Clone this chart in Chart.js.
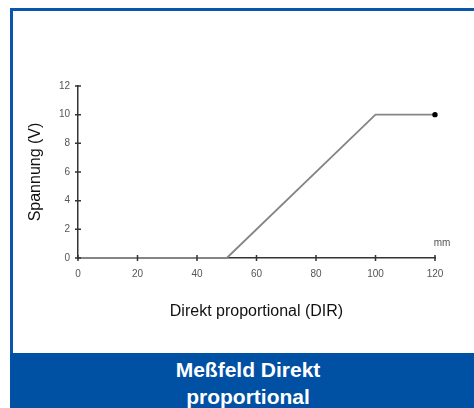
<!DOCTYPE html>
<html>
<head>
<meta charset="utf-8">
<script src="https://cdn.jsdelivr.net/npm/chart.js@4/dist/chart.umd.min.js"></script>
<style>
  html, body { margin: 0; padding: 0; width: 474px; height: 408px; overflow: hidden; background: #fff; }
  #frame { position: absolute; left: 10px; top: 8px; width: 476px; height: 345px; box-sizing: border-box;
           border-top: 3px solid #0a56ad; border-left: 3px solid #0a56ad; background: #fff; }
  #band { position: absolute; left: 10px; top: 353px; width: 476px; height: 60px; background: #0050a4;
          color: #fff; text-align: center; font: bold 21px "Liberation Sans", Arial, sans-serif;
          line-height: 27px; padding-top: 3px; box-sizing: border-box; }
  #c { position: absolute; left: 0; top: 0; }
</style>
</head>
<body>
<div id="frame"></div>
<div id="band">Meßfeld Direkt<br>proportional</div>
<canvas id="c" width="474" height="350"></canvas>
<script>
// ---- data ----
const positionsMm = [0, 50, 100, 120];
const voltageV = [0, 0, 10, 10];
const xTickValues = [0, 20, 40, 60, 80, 100, 120];
const yTickValues = [0, 2, 4, 6, 8, 10, 12];
const xAxisTitle = 'Direkt proportional (DIR)';
const yAxisTitle = 'Spannung (V)';
const xUnitLabel = 'mm';

const FONT = '"Liberation Sans", Arial, sans-serif';
const AXIS = '#333';

const crossTicks = {
  id: 'crossTicks',
  afterDraw(chart) {
    const {ctx, scales: {x, y}} = chart;
    const y0 = y.getPixelForValue(y.min);
    const x0 = x.getPixelForValue(x.min);
    ctx.save();
    ctx.strokeStyle = AXIS;
    ctx.lineWidth = 1.5;
    ctx.beginPath();
    x.ticks.forEach(t => {
      const px = x.getPixelForValue(t.value);
      ctx.moveTo(px, y0 - 3); ctx.lineTo(px, y0 + 3);
    });
    y.ticks.forEach(t => {
      const py = y.getPixelForValue(t.value);
      ctx.moveTo(x0 - 3, py); ctx.lineTo(x0 + 3, py);
    });
    ctx.stroke();
    ctx.fillStyle = '#555';
    ctx.font = '10px ' + FONT;
    ctx.textAlign = 'center';
    ctx.textBaseline = 'middle';
    ctx.fillText(xUnitLabel, x.getPixelForValue(x.max) + 7, y0 - 15);
    ctx.restore();
  }
};

const lastIdx = positionsMm.length - 1;

new Chart(document.getElementById('c'), {
  type: 'line',
  data: {
    datasets: [{
      data: positionsMm.map((v, i) => ({x: v, y: voltageV[i]})),
      borderColor: '#858585',
      borderWidth: 1.8,
      pointRadius: ctx => ctx.dataIndex === lastIdx ? 2.7 : 0,
      pointBackgroundColor: '#000',
      pointBorderColor: '#000',
      pointBorderWidth: 0,
      tension: 0,
      clip: 6
    }]
  },
  options: {
    responsive: false,
    animation: false,
    events: [],
    layout: { padding: { top: 86, right: 39, left: 20, bottom: 0 } },
    plugins: { legend: { display: false }, tooltip: { enabled: false } },
    scales: {
      x: {
        type: 'linear', min: 0, max: 120,
        afterBuildTicks: s => { s.ticks = xTickValues.map(v => ({value: v})); },
        ticks: { font: { size: 10, family: FONT }, color: '#555', padding: 10, maxRotation: 0 },
        grid: { drawOnChartArea: false, drawTicks: false },
        border: { display: true, color: AXIS, width: 1.5 },
        title: { display: true, text: xAxisTitle, font: { size: 16, family: FONT }, color: '#111',
                 padding: { top: 0, bottom: 29 } },
        afterFit: s => { s.height = 92; }
      },
      y: {
        type: 'linear', min: 0, max: 12,
        afterBuildTicks: s => { s.ticks = yTickValues.map(v => ({value: v})); },
        ticks: { font: { size: 10, family: FONT }, color: '#555', padding: 8 },
        grid: { drawOnChartArea: false, drawTicks: false },
        border: { display: true, color: AXIS, width: 1.5 },
        title: { display: true, text: yAxisTitle, font: { size: 16, family: FONT }, color: '#111',
                 padding: { top: 6, bottom: 0 } },
        afterFit: s => { s.width = 58; }
      }
    }
  },
  plugins: [crossTicks]
});
</script>
</body>
</html>
